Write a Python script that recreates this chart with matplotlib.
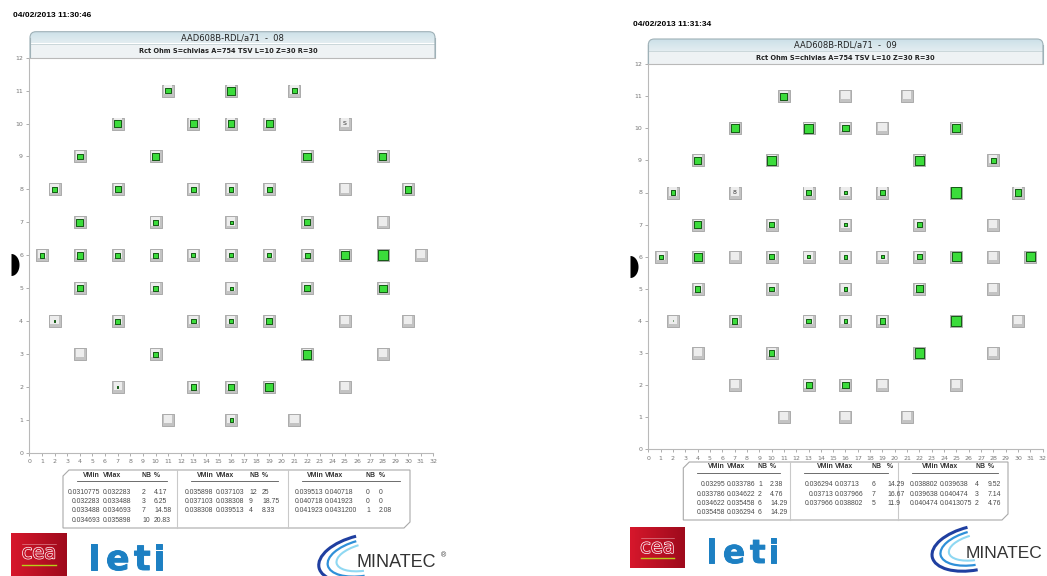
import numpy as np
import matplotlib
matplotlib.use("Agg")
import matplotlib.pyplot as plt
from matplotlib.patches import FancyBboxPatch, Rectangle, Polygon, Arc
import matplotlib.patheffects as pe

W, H = 1047, 576

# ---------------- data ----------------
date_08 = "04/02/2013 11:30:46"
date_09 = "04/02/2013 11:31:34"
title_08 = "AAD608B-RDL/a71  -  08"
title_09 = "AAD608B-RDL/a71  -  09"
subtitle = "Rct Ohm S=chlvias A=754 TSV L=10 Z=30 R=30"

x_ticks = list(range(0, 33))
y_ticks = list(range(0, 13))

# die positions (same layout on both wafers), rows 11 -> 1
die_x = [11, 16, 21,
         7, 13, 16, 19, 25,
         4, 10, 22, 28,
         2, 7, 13, 16, 19, 25, 30,
         4, 10, 16, 22, 28,
         1, 4, 7, 10, 13, 16, 19, 22, 25, 28, 31,
         4, 10, 16, 22, 28,
         2, 7, 13, 16, 19, 25, 30,
         4, 10, 22, 28,
         7, 13, 16, 19, 25,
         11, 16, 21]
die_y = [11] * 3 + [10] * 5 + [9] * 4 + [8] * 7 + [7] * 5 + [6] * 11 + [5] * 5 + [4] * 7 + [3] * 4 + [2] * 5 + [1] * 3

# relative green fill level of each die (0 = not measured)
fill_08 = [0.55, 0.75, 0.55,
           0.70, 0.70, 0.60, 0.63, 0,
           0.55, 0.63, 0.70, 0.67,
           0.52, 0.58, 0.50, 0.40, 0.45, 0, 0.60,
           0.64, 0.47, 0.25, 0.58, 0,
           0.42, 0.61, 0.50, 0.45, 0.38, 0.38, 0.38, 0.47, 0.75, 0.97, 0,
           0.53, 0.45, 0.30, 0.60, 0.70,
           0.15, 0.47, 0.42, 0.38, 0.55, 0, 0,
           0, 0.47, 0.83, 0,
           0.12, 0.55, 0.55, 0.72, 0,
           0, 0.33, 0]
fill_09 = [0.67, 0, 0,
           0.78, 0.83, 0.58, 0, 0.78,
           0.61, 0.80, 0.83, 0.56,
           0.47, 0, 0.53, 0.36, 0.44, 0.97, 0.61,
           0.75, 0.47, 0.25, 0.55, 0,
           0.39, 0.78, 0, 0.44, 0.30, 0.36, 0.28, 0.50, 0.83, 0, 0.86,
           0.53, 0.42, 0.33, 0.67, 0,
           0.08, 0.56, 0.42, 0.31, 0.53, 0.97, 0,
           0, 0.50, 0.94, 0,
           0, 0.58, 0.61, 0, 0,
           0, 0, 0]
marks_08 = [(25, 10, "S")]
marks_09 = [(7, 8, "8")]

# histogram tables
vmin_08 = ["0.0310775", "0.032283", "0.033488", "0.034693", "0.035898", "0.037103", "0.038308",
           "0.039513", "0.040718", "0.041923"]
vmax_08 = ["0.032283", "0.033488", "0.034693", "0.035898", "0.037103", "0.038308", "0.039513",
           "0.040718", "0.041923", "0.0431200"]
nb_08 = [2, 3, 7, 10, 12, 9, 4, 0, 0, 1]
pct_08 = ["4.17", "6.25", "14.58", "20.83", "25", "18.75", "8.33", "0", "0", "2.08"]

vmin_09 = ["0.03295", "0.033786", "0.034622", "0.035458", "0.036294", "0.03713", "0.037966",
           "0.038802", "0.039638", "0.040474"]
vmax_09 = ["0.033786", "0.034622", "0.035458", "0.036294", "0.03713", "0.037966", "0.038802",
           "0.039638", "0.040474", "0.0413075"]
nb_09 = [1, 2, 6, 6, 6, 7, 5, 4, 3, 2]
pct_09 = ["2.38", "4.76", "14.29", "14.29", "14.29", "16.67", "11.9", "9.52", "7.14", "4.76"]
group_rows = [[0, 1, 2, 3], [4, 5, 6], [7, 8, 9]]

# ---------------- figure ----------------
fig = plt.figure(figsize=(W / 100, H / 100), dpi=100)
fig.patch.set_facecolor("white")
ov = fig.add_axes([0, 0, 1, 1], zorder=0)
ov.set_xlim(0, W)
ov.set_ylim(H, 0)
ov.axis("off")

SANS = ["DejaVu Sans"]
LIB = ["Liberation Sans", "DejaVu Sans"]


def px_axes(l, r, t, b):
    return fig.add_axes([l / W, 1 - b / H, (r - l) / W, (b - t) / H], zorder=2)


def draw_map(box, fills, marks, bs):
    ax = px_axes(*box)
    ax.set_facecolor("none")
    ax.set_xlim(0, 32)
    ax.set_ylim(0, 12)
    for s in ("top", "right"):
        ax.spines[s].set_visible(False)
    for s in ("left", "bottom"):
        ax.spines[s].set_color("#b9b9b9")
        ax.spines[s].set_linewidth(0.8)
    ax.set_xticks(x_ticks)
    ax.set_yticks(y_ticks)
    ax.tick_params(direction="out", length=2.5, width=0.6, color="#a0a0a0",
                   labelsize=4.5, labelcolor="#777777", pad=2)
    for lab in ax.get_xticklabels() + ax.get_yticklabels():
        lab.set_family(SANS)
    x = np.array(die_x, float)
    y = np.array(die_y, float)
    f = np.array(fills, float)
    ax.scatter(x, y, s=bs ** 2, marker="s", c="#c3c3c3", edgecolors="#a2a2a2",
               linewidths=0.6, zorder=3, clip_on=False)
    ax.scatter(x, y + 0.03, s=(bs * 0.72) ** 2, marker="s", c="#ededed",
               edgecolors="none", zorder=4, clip_on=False)
    m = f > 0
    ax.scatter(x[m], y[m], s=(f[m] * bs * 0.92) ** 2, marker="s", c="#3bdc3b",
               edgecolors="#145a14", linewidths=0.7, zorder=5, clip_on=False)
    for mx, my, t in marks:
        ax.text(mx, my, t, ha="center", va="center", fontsize=4.5, color="#333333",
                family=SANS, zorder=6)
    return ax


draw_map((29.3, 433.3, 57.6, 453.0), fill_08, marks_08, 8.3)
draw_map((648.3, 1042.7, 64.1, 449.3), fill_09, marks_09, 8.1)


def banner(x0, x1, y0, ymid, y1, title, cx, sub_cx):
    rad = 6
    patch = FancyBboxPatch((x0, y0), x1 - x0, (y1 - y0) + rad,
                           boxstyle=f"round,pad=0,rounding_size={rad}",
                           facecolor="none", edgecolor="#9fb1b7", linewidth=0.8, zorder=3)
    ov.add_patch(patch)
    grad = np.linspace(0, 1, 50).reshape(-1, 1)
    top_c = np.array([0.80, 0.88, 0.91])
    bot_c = np.array([0.89, 0.93, 0.945])
    img = top_c[None, None, :] * (1 - grad[:, :, None]) + bot_c[None, None, :] * grad[:, :, None]
    im = ov.imshow(img, extent=[x0, x1, ymid, y0], aspect="auto", zorder=1)
    im.set_clip_path(patch)
    ov.add_patch(Rectangle((x0, ymid), x1 - x0, y1 - ymid, facecolor="#eef2f4",
                           edgecolor="none", zorder=1.5))
    ov.plot([x0, x1], [ymid, ymid], color="#c5d2d6", lw=0.6, zorder=2)
    ov.plot([x0, x0], [y0 + rad, y1], color="#9fb1b7", lw=0.8, zorder=3)
    ov.plot([x1, x1], [y0 + rad, y1], color="#9fb1b7", lw=0.8, zorder=3)
    ov.add_patch(Rectangle((x0 - 2, y1), x1 - x0 + 4, rad + 2, facecolor="white",
                           edgecolor="none", zorder=3.5))
    ov.plot([x0, x1], [y1, y1], color="#b9b9b9", lw=0.8, zorder=4)
    ov.text(cx, (y0 + ymid) / 2 + 0.5, title, ha="center", va="center", fontsize=6.0,
            color="#222222", family=SANS, zorder=5)
    ov.text(sub_cx, (ymid + y1) / 2 + 0.5, subtitle, ha="center", va="center", fontsize=4.8,
            fontweight="bold", color="#222222", family=SANS, zorder=5)


banner(30, 435, 31.7, 43.5, 57.6, title_08, 232.5, 228.5)
banner(648.3, 1043, 39.0, 50.7, 64.1, title_09, 845.5, 845)

ov.text(13, 15.5, date_08, ha="left", va="center", fontsize=6, fontweight="bold",
        color="black", family=LIB)
ov.text(633, 25, date_09, ha="left", va="center", fontsize=6, fontweight="bold",
        color="black", family=LIB)

# wafer notches
t = np.linspace(-np.pi / 2, np.pi / 2, 40)
for nx, ny in ((11.5, 265), (630.5, 267)):
    pts = np.column_stack([nx + 8 * np.cos(t), ny + 11 * np.sin(t)])
    ov.add_patch(Polygon(pts, closed=True, facecolor="black", edgecolor="none", zorder=3))


def table(x0, x1, y0, y1, divs, vmin_r, vmax_l, nb_x, pct_x, hdr_y, rows_y, ul_y,
          vmins, vmaxs, nbs, pcts):
    c = 6
    pts = [(x0 + c, y0), (x1, y0), (x1, y1 - c), (x1 - c, y1), (x0, y1), (x0, y0 + c)]
    ov.add_patch(Polygon(pts, closed=True, facecolor="white", edgecolor="#a9a9a9",
                         linewidth=0.8, zorder=2))
    for d in divs:
        ov.plot([d, d], [y0, y1], color="#c9c9c9", lw=0.8, zorder=3)
    edges = [x0] + list(divs) + [x1]
    for g, rows in enumerate(group_rows):
        kw = dict(fontsize=4.95, family=LIB, zorder=4, va="center")
        ov.text(vmin_r[g], hdr_y, "VMin", ha="right", fontweight="bold", color="#333333", **kw)
        ov.text(vmax_l[g], hdr_y, "VMax", ha="left", fontweight="bold", color="#333333", **kw)
        ov.text(nb_x[g], hdr_y, "NB", ha="left", fontweight="bold", color="#333333", **kw)
        ov.text(pct_x[g], hdr_y, "%", ha="left", fontweight="bold", color="#333333", **kw)
        ov.plot([edges[g] + 14, edges[g + 1] - 10], [ul_y, ul_y], color="#555555", lw=0.6, zorder=4)
        for k, i in enumerate(rows):
            yy = rows_y[k]
            ov.text(vmin_r[g], yy, vmins[i], ha="right", color="#4a4a4a", **kw)
            ov.text(vmax_l[g], yy, vmaxs[i], ha="left", color="#4a4a4a", **kw)
            ov.text(nb_x[g], yy, str(nbs[i]), ha="left", color="#4a4a4a", **kw)
            ov.text(pct_x[g], yy, pcts[i], ha="left", color="#4a4a4a", **kw)


table(63, 410, 470, 528, [177, 288.3], [100, 213.5, 323.5], [102.5, 215.5, 325],
      [142, 249, 366], [154, 262, 379], 475.5, [492, 501.5, 511, 520.5], 481,
      vmin_08, vmax_08, nb_08, pct_08)
table(683.3, 1008, 462, 520, [790, 897.7], [725, 833.5, 938.5], [727, 835, 939.5],
      [758, 872, 975], [770, 887, 988], 467, [484.5, 494, 503.5, 513], 473,
      vmin_09, vmax_09, nb_09, pct_09)


# logos
def logos(cea_box, cea_c, line_y, leti_x, leti_y, leti_size, mina_xy, mina_size, reg,
          sw_c, sw_s):
    x0, y0, w, h = cea_box
    grad = np.linspace(0, 1, 60).reshape(1, -1)
    c1 = np.array([0.84, 0.09, 0.17])
    c2 = np.array([0.62, 0.04, 0.11])
    img = c1[None, None, :] * (1 - grad[:, :, None]) + c2[None, None, :] * grad[:, :, None]
    ov.imshow(img, extent=[x0, x0 + w, y0 + h, y0], aspect="auto", zorder=2)
    ov.text(cea_c[0], cea_c[1], "cea", ha="center", va="center", fontsize=14, color="#c8142c",
            family=SANS, zorder=3,
            path_effects=[pe.withStroke(linewidth=1.0, foreground="white")])
    ov.plot([x0 + 11, x0 + w - 11], [line_y, line_y], color="#b9cf1a", lw=1.0, zorder=3)
    ov.plot([x0 + 11, x0 + w - 11], [y0 + 11, y0 + 11], color="#e7a0a8", lw=0.4, zorder=3)
    for lx, ch in zip(leti_x, "leti"):
        ov.text(lx, leti_y, ch, ha="left", va="baseline", fontsize=leti_size,
                fontweight="bold", color="#1d80c3", family=SANS, zorder=3,
                path_effects=[pe.withStroke(linewidth=0.7, foreground="#1d80c3")])
    ov.text(mina_xy[0], mina_xy[1], "MINATEC", ha="left", va="baseline", fontsize=mina_size,
            color="#333333", family=LIB, zorder=3)
    if reg is not None:
        ov.text(reg[0], reg[1], "®", ha="left", va="center", fontsize=5, color="#333333",
                family=LIB, zorder=3)
    cx, cy = sw_c
    for (dw, dh, col, lw, th1, th2) in ((1.0, 1.0, "#1f3fa0", 2.2, 95, 262),
                                        (0.84, 0.78, "#2f90d8", 1.6, 105, 252),
                                        (0.68, 0.58, "#8fd8f2", 1.5, 115, 245)):
        ov.add_patch(Arc((cx + (1 - dw) * 10 * sw_s, cy - (1 - dh) * 3 * sw_s),
                         92 * dw * sw_s, 46 * dh * sw_s, angle=-12,
                         theta1=th1, theta2=th2, color=col, lw=lw, zorder=3))


logos((11, 533, 56, 43), (39, 553), 565, [88, 106, 134, 153], 570, 25, (357, 567), 13,
      (441, 556), (364, 558), 1.0)
logos((630, 527, 55, 41), (657.5, 547.5), 557.7, [706, 723, 750, 768], 563, 23.5,
      (966, 558), 12.5, None, (975, 548), 0.95)

ov.set_xlim(0, W)
ov.set_ylim(H, 0)

fig.savefig("out.png", dpi=100, facecolor="white")
